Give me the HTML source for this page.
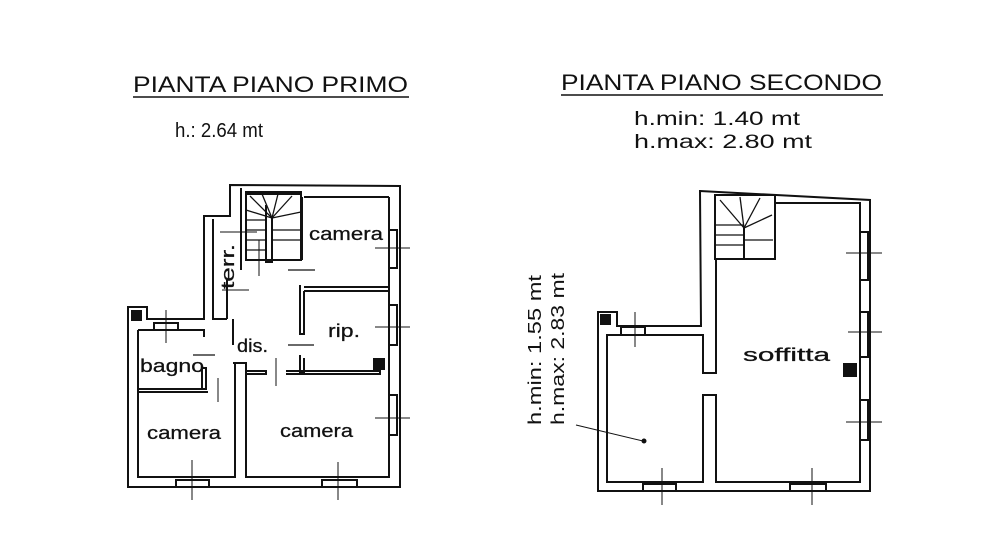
<!DOCTYPE html>
<html><head><style>html,body{margin:0;padding:0;background:#fff}svg{display:block}</style></head>
<body>
<svg width="999" height="536" viewBox="0 0 999 536" xmlns="http://www.w3.org/2000/svg" font-family="Liberation Sans, sans-serif">
<g fill="#111" font-weight="normal">
<text x="133" y="92" font-size="22" textLength="275" lengthAdjust="spacingAndGlyphs">PIANTA PIANO PRIMO</text>
<line x1="133" y1="97" x2="409" y2="97" stroke="#111" stroke-width="1.5"/>
<text x="175" y="137" font-size="20" textLength="88" lengthAdjust="spacingAndGlyphs">h.: 2.64 mt</text>
<text x="561" y="90" font-size="22" textLength="321" lengthAdjust="spacingAndGlyphs">PIANTA PIANO SECONDO</text>
<line x1="561" y1="95" x2="883" y2="95" stroke="#111" stroke-width="1.5"/>
<text x="634" y="125" font-size="19" textLength="166" lengthAdjust="spacingAndGlyphs">h.min: 1.40 mt</text>
<text x="634" y="148" font-size="19" textLength="178" lengthAdjust="spacingAndGlyphs">h.max: 2.80 mt</text>
<text transform="translate(541,425) rotate(-90)" font-size="18" textLength="150" lengthAdjust="spacingAndGlyphs">h.min: 1.55 mt</text>
<text transform="translate(564,425) rotate(-90)" font-size="18" textLength="152" lengthAdjust="spacingAndGlyphs">h.max: 2.83 mt</text>
</g>

<g fill="none" stroke="#111" stroke-width="2">
<polygon points="230,185 400,186 400,487 128,487 128,307 147,307 147,319 204,319 204,216 230,216"/>
<polyline points="389,197 389,477 246,477 246,363 233,363"/>
<polyline points="138,330 138,477 235,477 235,363"/>
<polyline points="138,330 180,330"/>
<polyline points="157,330 204,330 204,337"/>
<polyline points="213,219 213,319 227,319"/>
<polyline points="241,188 241,270"/>
<polyline points="304,197 389,197"/>
<polyline points="302,197 302,260"/>
<polyline points="245,192 302,192"/>
<polyline points="304,287 389,287"/>
<polyline points="304,291 389,291"/>
<polyline points="300,285 300,334 304,334 304,291"/>
<polyline points="300,355 300,372 304,372 304,358"/>
<polyline points="246,371 266,371 266,374 246,374"/>
<polyline points="286,371 380,371 380,374 286,374"/>
<polyline points="138,389 206,389 206,368 202,368 202,389"/>
<polyline points="138,392 208,392"/>
<polyline points="227,280 227,319"/>
<polyline points="233,319 233,345"/>
<rect x="154" y="323" width="24" height="7"/>
<rect x="176" y="480" width="33" height="7"/>
<rect x="322" y="480" width="35" height="7"/>
<rect x="389" y="230" width="8" height="38"/>
<rect x="389" y="305" width="8" height="40"/>
<rect x="389" y="395" width="8" height="40"/>
<rect x="246" y="194" width="55" height="66"/>
<polyline points="266,205 266,262 272,262 272,218"/>
</g>
<g fill="none" stroke="#111" stroke-width="1.3">
<line x1="246" y1="220" x2="266" y2="220"/><line x1="246" y1="230" x2="266" y2="230"/>
<line x1="246" y1="240" x2="266" y2="240"/><line x1="246" y1="250" x2="266" y2="250"/>
<line x1="272" y1="230" x2="301" y2="230"/><line x1="272" y1="240" x2="301" y2="240"/>
<line x1="272" y1="218" x2="250" y2="196"/><line x1="272" y1="218" x2="262" y2="194"/>
<line x1="272" y1="218" x2="278" y2="194"/><line x1="272" y1="218" x2="292" y2="196"/>
<line x1="272" y1="218" x2="301" y2="212"/><line x1="272" y1="218" x2="246" y2="210"/>
<line x1="288" y1="270" x2="315" y2="270"/>
<line x1="288" y1="345" x2="314" y2="345"/>
<line x1="193" y1="355" x2="215" y2="355"/>
</g>
<g stroke="#111" stroke-width="1" fill="none">
<line x1="166" y1="310" x2="166" y2="343"/><line x1="192" y1="460" x2="192" y2="500"/>
<line x1="338" y1="462" x2="338" y2="500"/><line x1="375" y1="248" x2="410" y2="248"/>
<line x1="375" y1="327" x2="410" y2="327"/><line x1="375" y1="418" x2="410" y2="418"/>
<line x1="220" y1="232" x2="257" y2="232"/><line x1="222" y1="290" x2="249" y2="290"/>
<line x1="276" y1="358" x2="276" y2="386"/><line x1="218" y1="378" x2="218" y2="402"/>
<line x1="259" y1="240" x2="259" y2="276"/>
</g>
<rect x="131" y="310" width="11" height="11" fill="#111"/>
<rect x="373" y="358" width="12" height="12" fill="#111"/>
<g fill="#111" font-size="18" stroke="#111" stroke-width="0.25">
<text x="309" y="240" textLength="74" lengthAdjust="spacingAndGlyphs">camera</text>
<text x="328" y="337" textLength="32" lengthAdjust="spacingAndGlyphs">rip.</text>
<text x="237" y="352" textLength="31" lengthAdjust="spacingAndGlyphs">dis.</text>
<text x="140" y="372" textLength="64" lengthAdjust="spacingAndGlyphs">bagno</text>
<text x="147" y="439" textLength="74" lengthAdjust="spacingAndGlyphs">camera</text>
<text x="280" y="437" textLength="73" lengthAdjust="spacingAndGlyphs">camera</text>
<text transform="translate(234,289) rotate(-90)" textLength="45" lengthAdjust="spacingAndGlyphs">terr.</text>
<text x="743" y="361" textLength="87" lengthAdjust="spacingAndGlyphs">soffitta</text>
</g>

<g fill="none" stroke="#111" stroke-width="2">
<polygon points="700,191 870,200 870,491 598,491 598,312 617,312 617,326 701,326"/>
<polyline points="775,203 860,203 860,482 716,482 716,395 703,395 703,482 607,482 607,335 621,335"/>
<polyline points="645,335 703,335 703,373 716,373 716,259 775,259 775,200"/>
<rect x="715" y="195" width="60" height="64"/>
<polyline points="744,228 744,259"/>
<rect x="621" y="327" width="24" height="8"/>
<rect x="643" y="484" width="33" height="7"/>
<rect x="790" y="484" width="36" height="7"/>
<rect x="860" y="232" width="8" height="48"/>
<rect x="860" y="312" width="8" height="45"/>
<rect x="860" y="400" width="8" height="40"/>
</g>
<g fill="none" stroke="#111" stroke-width="1.3">
<line x1="716" y1="225" x2="744" y2="225"/><line x1="716" y1="235" x2="744" y2="235"/>
<line x1="716" y1="245" x2="744" y2="245"/><line x1="744" y1="240" x2="773" y2="240"/>
<line x1="744" y1="228" x2="720" y2="200"/><line x1="744" y1="228" x2="740" y2="197"/>
<line x1="744" y1="228" x2="760" y2="198"/><line x1="744" y1="228" x2="772" y2="215"/>
</g>
<g stroke="#111" stroke-width="1">
<line x1="635" y1="312" x2="635" y2="347"/><line x1="662" y1="468" x2="662" y2="505"/>
<line x1="812" y1="468" x2="812" y2="505"/><line x1="846" y1="253" x2="882" y2="253"/>
<line x1="848" y1="332" x2="882" y2="332"/><line x1="846" y1="422" x2="882" y2="422"/>
<line x1="576" y1="425" x2="643" y2="441"/>
</g>
<circle cx="644" cy="441" r="2.5" fill="#111"/>
<rect x="600" y="314" width="11" height="11" fill="#111"/>
<rect x="843" y="363" width="14" height="14" fill="#111"/>
</svg>
</body></html>
